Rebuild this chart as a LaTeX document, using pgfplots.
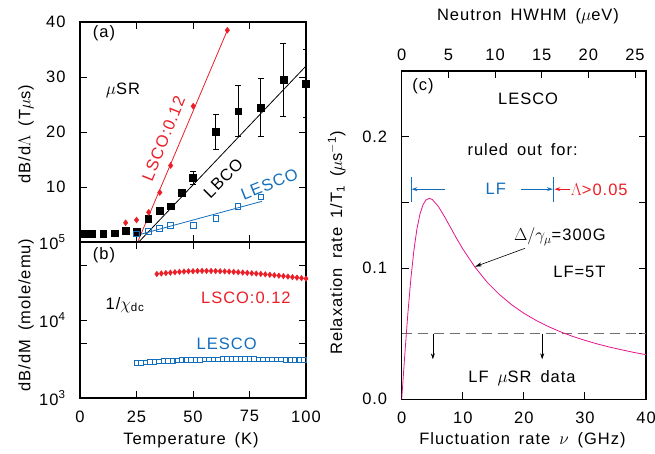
\documentclass[border=0pt]{standalone}
\usepackage{pgfplots}
\pgfplotsset{compat=1.18}
\usepackage{fontspec}
\setmainfont{Liberation Sans}[LetterSpace=6,WordSpace=1.6]
\usetikzlibrary{arrows.meta}

\definecolor{lred}{RGB}{235,30,40}
\definecolor{lblue}{RGB}{20,110,190}
\definecolor{lmag}{RGB}{230,20,140}
\definecolor{lgray}{RGB}{110,110,110}

\newcommand{\fs}{\fontsize{16.5}{19}\selectfont}

\pgfplotsset{
  panel/.style={
    scale only axis, anchor=south west,
    tick align=inside, major tick length=7pt, minor tick length=7pt,
    axis line style={line width=1.1pt},
    every tick/.style={black, line width=0.9pt},
    tick label style={font=\fs},
    /pgf/number format/assume math mode=true,
  },
}

\begin{document}
\begin{tikzpicture}[x=1pt,y=1pt]
\useasboundingbox (0,0) rectangle (655,453);

% ---------- panel (a) ----------
\begin{axis}[panel, at={(80pt,211pt)}, width=226pt, height=220pt,
  xmin=0, xmax=100, ymin=0, ymax=40,
  xtick={25,50,75}, xticklabels={},
  ytick={10,20,30,40},
  yticklabel style={xshift=-11pt}]
  % fit lines
  \addplot[lred, line width=0.8pt] coordinates {(25.5,0) (65.2,38.5)};
  \addplot[black, line width=0.8pt] coordinates {(26,0) (100,32)};
  \addplot[lblue, line width=0.8pt] coordinates {(25,1.2) (80.5,7.4)};
  % LBCO
  \addplot[only marks, mark=square*, mark size=3.4pt, black,
    error bars/.cd, y dir=both, y explicit,
    error bar style={line width=0.7pt},
    error mark options={rotate=90, mark size=3pt, line width=0.7pt}]
    coordinates {
    (2.2,1.55) (5.3,1.55) (10.3,1.55) (15.2,1.6) (20.2,2.0) (25,1.9)
    (30.2,4.2) (35.2,5.7) (40.1,6.5)
    (45,9.0) +- (0,0.6)
    (50,11.65) +- (0,1.25)
    (60,20.0) +- (0,3.2)
    (70,23.8) +- (0,4.6)
    (80,24.45) +- (0,5.25)
    (90,29.45) +- (0,6.65)
    (100,28.8) +- (0,6.2)
    };
  % LSCO:0.12
  \addplot[only marks, mark=diamond*, mark size=3pt, lred] coordinates {
    (20.2,3.5) (25,4.0) (30.4,5.4) (35.3,9.0) (40.1,13.9) (50.1,24.7) (65.2,38.5)};
  % LESCO
  \addplot[only marks, mark=square, mark size=2.8pt, lblue, mark options={line width=0.9pt}]
    coordinates {
    (25,1.5) (30.2,1.9) (35.2,2.5) (40.1,3.0) (50.1,3.0) (60.2,4.3) (69.9,6.5) (80.1,8.2)};
  \node[font=\fs] at (axis cs:10.6,38) {(a)};
  \node[font=\fs] at (axis cs:19,27.5) {$\mu$SR};
  \node[font=\fs, lred, rotate=68, inner sep=0pt] at (axis cs:37.0,18.8) {LSCO:0.12};
  \node[font=\fs, rotate=45, inner sep=0pt] at (axis cs:63.4,11.6) {LBCO};
  \node[font=\fs, lblue, rotate=22, inner sep=0pt] at (axis cs:83.8,10.5) {LESCO};
\end{axis}

% ---------- panel (b) ----------
\begin{axis}[panel, at={(80pt,55pt)}, width=226pt, height=156pt,
  xmin=0, xmax=100, ymode=log, ymin=1000, ymax=100000,
  xtick={0,25,50,75,100},
  ytick={1000,10000,100000},
  yticklabels={10\textsuperscript{3},10\textsuperscript{4},10\textsuperscript{5}},
  minor ytick={5000,50000},
  yticklabel style={xshift=-11pt},
  xticklabel style={yshift=-9pt}]
  \addplot[only marks, mark=diamond*, mark size=2.8pt, lred] coordinates {
    (34,38900) (36,39500) (38,40000) (40,40500) (42,41000) (44,41400)
    (46,41800) (48,42100) (50,42300) (52,42500) (54,42600) (56,42600)
    (58,42500) (60,42400) (62,42200) (64,42000) (66,41700) (68,41400)
    (70,41000) (72,40600) (74,40200) (76,39800) (78,39400) (80,39000)
    (82,38500) (84,38000) (86,37500) (88,37000) (90,36500) (92,36000)
    (94,35400) (96,34900) (98,34400) (100,33900)};
  \addplot[only marks, mark=square, mark size=2.3pt, lblue, mark options={line width=0.9pt}]
    coordinates {
    (25,2790) (27,2820) (29,2850) (31,2880) (33,2910) (35,2940) (37,2970)
    (39,2990) (41,3010) (43,3030) (45,3050) (47,3070) (49,3080) (51,3090)
    (53,3100) (55,3110) (57,3120) (59,3130) (61,3135) (63,3140) (65,3145)
    (67,3150) (69,3150) (71,3150) (73,3150) (75,3145) (77,3140) (79,3135)
    (81,3130) (83,3125) (85,3120) (87,3115) (89,3110) (91,3100) (93,3095)
    (95,3090) (97,3080) (99,3075)};
  \node[font=\fs] at (axis cs:10.6,68000) {(b)};
  \node[font=\fs] at (axis cs:19.9,15600) {1/$\chi$\textsubscript{dc}};
  \node[font=\fs, lred] at (axis cs:73.4,19000) {LSCO:0.12};
  \node[font=\fs, lblue] at (axis cs:64.9,5020) {LESCO};
\end{axis}

% ---------- panel (c) ----------
\begin{axis}[panel, at={(401.7pt,53.7pt)}, width=244.3pt, height=328.3pt,
  xmin=0, xmax=40, ymin=0, ymax=0.25,
  xtick={0,10,20,30,40}, xtick pos=left,
  ytick={0,0.1,0.2}, minor ytick={0.05,0.15},
  yticklabel style={xshift=-11pt, /pgf/number format/.cd, fixed, fixed zerofill, precision=1},
  xticklabel style={yshift=-9pt}]
  \addplot[lgray, line width=0.9pt, dash pattern=on 10pt off 6pt] coordinates {(0,0.05) (40,0.05)};
  \addplot[lmag, line width=0.8pt] coordinates {
    (0,0) (0.5,0.0336) (1,0.0648) (1.5,0.0918) (2,0.1136) (2.5,0.1299)
    (3,0.1412) (3.5,0.1483) (4,0.1519) (4.5,0.1530) (5,0.1522) (6,0.1469)
    (7,0.1392) (8,0.1308) (9,0.1224) (10,0.1145) (12,0.1006) (14,0.0891)
    (16,0.0798) (18,0.0720) (20,0.0655) (22,0.0601) (24,0.0554) (26,0.0514)
    (28,0.0479) (30,0.0449) (32,0.0422) (34,0.0398) (36,0.0377) (38,0.0357)
    (40,0.0340)};
  \draw[-{Stealth[length=6pt,width=4pt]}, line width=0.6pt] (axis cs:5.1,0.05) -- (axis cs:5.1,0.0305);
  \draw[-{Stealth[length=6pt,width=4pt]}, line width=0.6pt] (axis cs:23,0.05) -- (axis cs:23,0.0305);
  \draw[-{Stealth[length=7pt,width=4pt]}, line width=0.6pt] (axis cs:20.2,0.115) -- (axis cs:12,0.101);
  \draw[lblue, line width=0.9pt] (axis cs:1.52,0.150) -- (axis cs:1.52,0.169);
  \draw[lblue, line width=0.9pt] (axis cs:24.85,0.150) -- (axis cs:24.85,0.169);
  \draw[lblue, line width=0.8pt, -{Stealth[length=6pt,width=4pt]}] (axis cs:7.1,0.16) -- (axis cs:1.6,0.16);
  \draw[lblue, line width=0.8pt, -{Stealth[length=6pt,width=4pt]}] (axis cs:19.5,0.16) -- (axis cs:24.75,0.16);
  \draw[lred, line width=0.8pt, -{Stealth[length=6pt,width=4pt]}] (axis cs:27.6,0.16) -- (axis cs:25,0.16);
  \node[font=\fs, lblue] at (axis cs:15.4,0.16) {LF};
  \node[font=\fs, lred, anchor=west, inner sep=1pt] at (axis cs:27.5,0.16) {$\Lambda$>0.05};
  \node[font=\fs] at (axis cs:3.5,0.2386) {(c)};
  \node[font=\fs] at (axis cs:20.7,0.2285) {LESCO};
  \node[font=\fs] at (axis cs:19.8,0.190) {ruled out for:};
  \node[font=\fs] at (axis cs:25.9,0.124) {$\Delta/\gamma_\mu$=300G};
  \node[font=\fs] at (axis cs:29.1,0.0967) {LF=5T};
  \node[font=\fs] at (axis cs:19.7,0.016) {LF $\mu$SR data};
\end{axis}
\begin{axis}[panel, at={(401.7pt,53.7pt)}, width=244.3pt, height=328.3pt,
  xmin=0, xmax=26.18, ymin=0, ymax=0.25,
  axis x line*=top, axis y line=none,
  xtick={0,5,10,15,20,25},
  xticklabel style={yshift=7pt}]
  \addplot[draw=none] coordinates {(0,0)};
\end{axis}

% axis titles
\node[font=\fs, rotate=90] at (26,319) {dB/d$\Lambda$ (T$\mu$s)};
\node[font=\fs, rotate=90] at (26,138) {dB/dM (mole/emu)};
\node[font=\fs] at (191,13) {Temperature (K)};
\node[font=\fs, rotate=90] at (336.7,210) {Relaxation rate 1/T\textsubscript{1} ($\mu$s\textsuperscript{$-$1})};
\node[font=\fs] at (522.5,13) {Fluctuation rate $\nu$ (GHz)};
\node[font=\fs] at (528,437) {Neutron HWHM ($\mu$eV)};
\end{tikzpicture}
\end{document}
